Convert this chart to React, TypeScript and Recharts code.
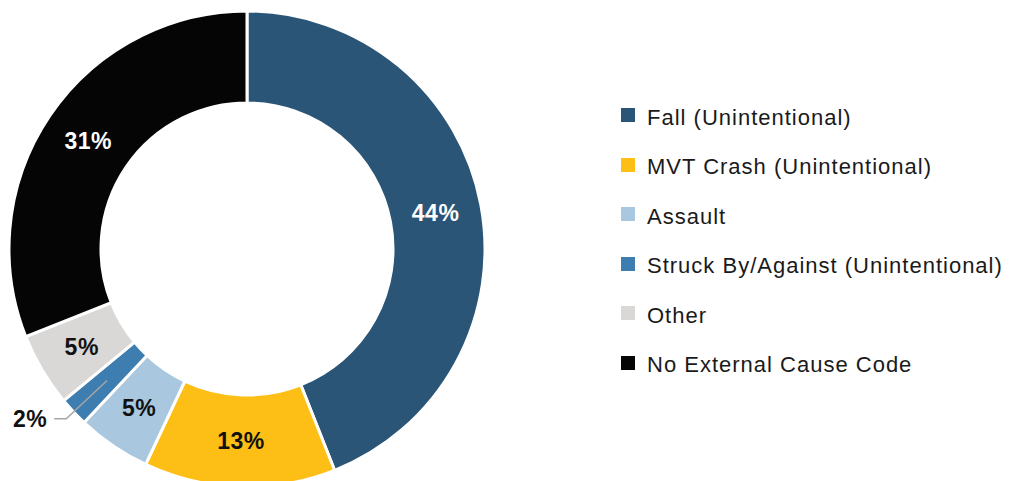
import { PieChart, Pie, Cell } from 'recharts'

const categories = [
  'Fall (Unintentional)',
  'MVT Crash (Unintentional)',
  'Assault',
  'Struck By/Against (Unintentional)',
  'Other',
  'No External Cause Code',
]
const shares = [44, 13, 5, 2, 5, 31]
const colors = ['#2a5576', '#fdbf16', '#a9c8e0', '#3d7db0', '#d9d8d6', '#050505']
const labelColors = ['#fff', '#111', '#111', '#111', '#111', '#fff']

const data = categories.map((name, i) => ({ name, value: shares[i] }))

const FONT = '"Liberation Sans", Arial, sans-serif'
const RADIAN = Math.PI / 180

function renderLabel(props: any) {
  const { cx, cy, midAngle, innerRadius, outerRadius, index, value } = props
  const r = (innerRadius + outerRadius) / 2
  const x = cx + r * Math.cos(-midAngle * RADIAN)
  const y = cy + r * Math.sin(-midAngle * RADIAN)
  if (value < 3) {
    // small slice: leader line out to the left
    const r2 = outerRadius + 10
    const ex = cx + r2 * Math.cos(-midAngle * RADIAN)
    const ey = cy + r2 * Math.sin(-midAngle * RADIAN)
    return (
      <g key={index}>
        <polyline
          points={`${x},${y} ${ex},${ey} ${ex - 12},${ey}`}
          fill="none"
          stroke="#a6a6a6"
          strokeWidth={1.5}
        />
        <text
          x={ex - 19}
          y={ey}
          textAnchor="end"
          dominantBaseline="central"
          fill="#111"
          fontFamily={FONT}
          fontWeight="bold"
          fontSize={23}
          letterSpacing={0.5}
        >
          {`${value}%`}
        </text>
      </g>
    )
  }
  return (
    <text
      key={index}
      x={x}
      y={y}
      textAnchor="middle"
      dominantBaseline="central"
      fill={labelColors[index]}
      fontFamily={FONT}
      fontWeight="bold"
      fontSize={23}
      letterSpacing={0.5}
    >
      {`${value}%`}
    </text>
  )
}

function LegendList() {
  return (
    <div style={{ position: 'absolute', left: 621, top: 93, fontFamily: FONT }}>
      {categories.map((name, i) => (
        <div
          key={name}
          style={{ display: 'flex', alignItems: 'center', height: 49.5 }}
        >
          <span
            style={{
              width: 14,
              height: 14,
              background: colors[i],
              marginRight: 12,
              marginTop: -5,
              flexShrink: 0,
            }}
          />
          <span style={{ fontSize: 22, letterSpacing: 1, color: '#1a1a1a', whiteSpace: 'nowrap' }}>
            {name}
          </span>
        </div>
      ))}
    </div>
  )
}

export default function App() {
  return (
    <div style={{ position: 'absolute', left: 0, top: 0, width: 1014, height: 481, background: '#fff' }}>
      <PieChart width={1014} height={481} margin={{ top: 0, right: 0, bottom: 0, left: 0 }}>
        <Pie
          data={data}
          dataKey="value"
          nameKey="name"
          cx={247}
          cy={249}
          innerRadius={146}
          outerRadius={238}
          startAngle={90}
          endAngle={-270}
          stroke="#fff"
          strokeWidth={3}
          label={renderLabel}
          labelLine={false}
          isAnimationActive={false}
        >
          {data.map((d, i) => (
            <Cell key={d.name} fill={colors[i]} />
          ))}
        </Pie>
      </PieChart>
      <LegendList />
    </div>
  )
}
